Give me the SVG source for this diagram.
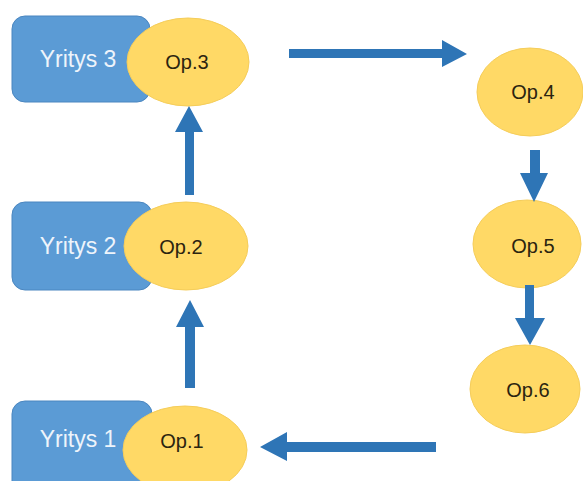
<svg xmlns="http://www.w3.org/2000/svg" width="583" height="481" viewBox="0 0 583 481">
  <style>
    .firm { fill: #5B9BD5; stroke: #4A86C0; stroke-width: 1; }
    .op { fill: #FFD966; stroke: #F5CD5A; stroke-width: 1; }
    .firm-text { font-family: "Liberation Sans", Arial, sans-serif; font-size: 23px; fill: #EEF4FB; text-anchor: middle; }
    .op-text { font-family: "Liberation Sans", Arial, sans-serif; font-size: 20px; fill: #2B2410; text-anchor: middle; }
    .arrow { fill: #2E75B6; }
  </style>
  <rect width="583" height="481" fill="#FFFFFF"/>

  <g id="firm3">
    <rect class="firm" x="12" y="16" width="138" height="86" rx="13"/>
    <text class="firm-text" x="78" y="67">Yritys 3</text>
  </g>
  <g id="op3">
    <ellipse class="op" cx="188" cy="62" rx="61" ry="44"/>
    <text class="op-text" x="187" y="69">Op.3</text>
  </g>

  <g id="firm2">
    <rect class="firm" x="12" y="202" width="140" height="88" rx="13"/>
    <text class="firm-text" x="78" y="254">Yritys 2</text>
  </g>
  <g id="op2">
    <ellipse class="op" cx="186" cy="246" rx="62" ry="44"/>
    <text class="op-text" x="181" y="254">Op.2</text>
  </g>

  <g id="firm1">
    <rect class="firm" x="12" y="401" width="140" height="100" rx="13"/>
    <text class="firm-text" x="78" y="447">Yritys 1</text>
  </g>
  <g id="op1">
    <ellipse class="op" cx="185" cy="450" rx="62" ry="44"/>
    <text class="op-text" x="182" y="448">Op.1</text>
  </g>

  <g id="op4">
    <ellipse class="op" cx="530" cy="92" rx="53" ry="44"/>
    <text class="op-text" x="533" y="99">Op.4</text>
  </g>
  <g id="op5">
    <ellipse class="op" cx="527" cy="244" rx="54" ry="44"/>
    <text class="op-text" x="533" y="253">Op.5</text>
  </g>
  <g id="op6">
    <ellipse class="op" cx="525" cy="389" rx="55" ry="44"/>
    <text class="op-text" x="528" y="397">Op.6</text>
  </g>

  <g id="connectors">
    <!-- Op.1 -> Op.2 -->
    <polygon class="arrow" points="185,388 195,388 195,327 204,327 190,300 176,327 185,327"/>
    <!-- Op.2 -> Op.3 -->
    <polygon class="arrow" points="185,195 194,195 194,132 203,132 189,106 175,132 185,132"/>
    <!-- Op.3 -> Op.4 -->
    <polygon class="arrow" points="289,49 442,49 442,40 467,54 442,67 442,58 289,58"/>
    <!-- Op.4 -> Op.5 -->
    <polygon class="arrow" points="530,150 540,150 540,173 548,173 534,202 520,173 530,173"/>
    <!-- Op.5 -> Op.6 -->
    <polygon class="arrow" points="525,285 534,285 534,318 545,318 530,345 515,318 525,318"/>
    <!-- Op.6 -> Op.1 -->
    <polygon class="arrow" points="436,442 287,442 287,432 260,447 287,461 287,452 436,452"/>
  </g>
</svg>
